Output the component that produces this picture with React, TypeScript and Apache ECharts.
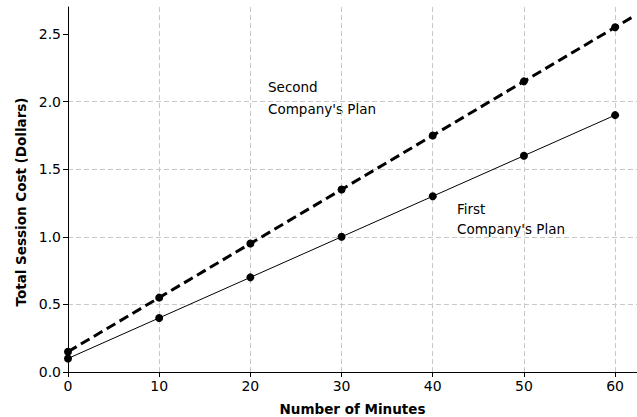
import React, { useEffect, useRef } from "react";
import * as echarts from "echarts";

const minutes = [0, 10, 20, 30, 40, 50, 60];
const firstPlan = [0.1, 0.4, 0.7, 1.0, 1.3, 1.6, 1.9];
const secondPlan = [0.15, 0.55, 0.95, 1.35, 1.75, 2.15, 2.55];
const secondExtension = [62.1, 2.634];
const yTicks = [0, 0.5, 1.0, 1.5, 2.0, 2.5];
const xTicks = [0, 10, 20, 30, 40, 50, 60];

const FONT = "DejaVu Sans";

export default function App() {
  const ref = useRef<HTMLDivElement>(null);
  useEffect(() => {
    const chart = echarts.init(ref.current!, null, { renderer: "svg" });
    const secondData: any[] = minutes.map((m, i) => [m, secondPlan[i]]);
    secondData.push({ value: secondExtension, symbol: "none" });
    chart.setOption({
      animation: false,
      textStyle: { fontFamily: FONT },
      grid: { left: 68, right: 0, top: 7, bottom: 45, containLabel: false, outerBoundsMode: "none" },
      xAxis: {
        type: "value",
        min: 0,
        max: 62.4,
        interval: 10,
        name: "Number of Minutes",
        nameLocation: "middle",
        nameGap: 30,
        nameTextStyle: { fontWeight: "bold", fontSize: 13.5, color: "#000", fontFamily: FONT },
        axisLine: { show: true, lineStyle: { color: "#000", width: 1 } },
        axisTick: { show: true, length: 5, lineStyle: { color: "#000" }, customValues: xTicks },
        axisLabel: { color: "#000", fontSize: 14, margin: 7, customValues: xTicks },
        splitLine: { show: true, lineStyle: { color: "#c8c8c8", type: [5, 3], width: 1 } },
      },
      yAxis: {
        type: "value",
        min: 0,
        max: 2.7,
        interval: 0.5,
        axisLine: { show: true, lineStyle: { color: "#000", width: 1 } },
        axisTick: { show: true, length: 5, lineStyle: { color: "#000" }, customValues: yTicks },
        axisLabel: {
          color: "#000",
          fontSize: 14,
          margin: 7,
          customValues: yTicks,
          formatter: (v: number) => v.toFixed(1),
        },
        splitLine: { show: true, showMaxLine: false, lineStyle: { color: "#c8c8c8", type: [5, 3], width: 1 } },
      },
      series: [
        {
          name: "First Company's Plan",
          type: "line",
          data: minutes.map((m, i) => [m, firstPlan[i]]),
          symbol: "circle",
          symbolSize: 8,
          lineStyle: { color: "#000", width: 1 },
          itemStyle: { color: "#000" },
          z: 3,
        },
        {
          name: "Second Company's Plan",
          type: "line",
          data: secondData,
          symbol: "circle",
          symbolSize: 8,
          lineStyle: { color: "#000", width: 3, type: [10, 5] },
          itemStyle: { color: "#000" },
          z: 4,
        },
      ],
      graphic: [
        {
          type: "text",
          x: 21,
          y: 202,
          rotation: Math.PI / 2,
          style: {
            text: "Total Session Cost (Dollars)",
            fontSize: 13.5,
            fontWeight: "bold",
            fontFamily: FONT,
            fill: "#000",
            align: "center",
            verticalAlign: "middle",
          },
        },
        { type: "text", left: 268, top: 80, style: { text: "Second", fontSize: 13.5, fontFamily: FONT, fill: "#000" } },
        { type: "text", left: 268, top: 102, style: { text: "Company's Plan", fontSize: 13.5, fontFamily: FONT, fill: "#000" } },
        { type: "text", left: 457, top: 202, style: { text: "First", fontSize: 13.5, fontFamily: FONT, fill: "#000" } },
        { type: "text", left: 457, top: 222, style: { text: "Company's Plan", fontSize: 13.5, fontFamily: FONT, fill: "#000" } },
      ],
    });
    return () => chart.dispose();
  }, []);
  return <div ref={ref} style={{ width: 637, height: 417, position: "absolute", left: 0, top: 0 }} />;
}
